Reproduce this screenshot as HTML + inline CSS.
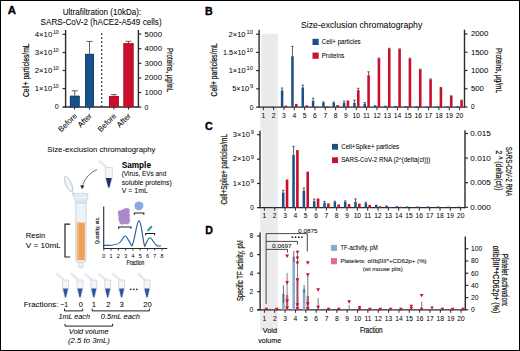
<!DOCTYPE html>
<html><head><meta charset="utf-8"><style>
html,body{margin:0;padding:0;background:#fff;}
svg{display:block;font-family:"Liberation Sans", sans-serif;}
</style></head><body>
<svg width="520" height="351" viewBox="0 0 520 351">
<rect x="0" y="0" width="520" height="351" fill="#fff"/>
<rect x="0.5" y="0.5" width="519" height="350" fill="none" stroke="#000" stroke-width="1"/>
<text x="7.8" y="14.1" font-size="11.4" stroke="#000" stroke-width="0.35" font-weight="bold" fill="#000">A</text>
<text x="205" y="15" font-size="10.6" stroke="#000" stroke-width="0.35" font-weight="bold" fill="#000">B</text>
<text x="205" y="130.4" font-size="10.8" stroke="#000" stroke-width="0.35" font-weight="bold" fill="#000">C</text>
<text x="205.3" y="233.9" font-size="10.6" stroke="#000" stroke-width="0.35" font-weight="bold" fill="#000">D</text>
<text x="62.7" y="15.2" font-size="8.2" stroke="#231f20" stroke-width="0.05" textLength="78.6" lengthAdjust="spacingAndGlyphs">Ultrafiltration (10kDa):</text>
<text x="40.6" y="24.8" font-size="8.2" stroke="#231f20" stroke-width="0.05" textLength="121" lengthAdjust="spacingAndGlyphs">SARS-CoV-2 (hACE2-A549 cells)</text>
<line x1="65.6" y1="30" x2="65.6" y2="107.5" stroke="#2b2b2b" stroke-width="1.4"/>
<line x1="138.4" y1="30" x2="138.4" y2="107.5" stroke="#2b2b2b" stroke-width="1.4"/>
<line x1="62.5" y1="107" x2="138.4" y2="107" stroke="#2b2b2b" stroke-width="1.4"/>
<line x1="62.6" y1="34.4" x2="65.6" y2="34.4" stroke="#2b2b2b" stroke-width="1.2"/>
<line x1="62.6" y1="52.5" x2="65.6" y2="52.5" stroke="#2b2b2b" stroke-width="1.2"/>
<line x1="62.6" y1="70.5" x2="65.6" y2="70.5" stroke="#2b2b2b" stroke-width="1.2"/>
<line x1="62.6" y1="88.6" x2="65.6" y2="88.6" stroke="#2b2b2b" stroke-width="1.2"/>
<text x="34.7" y="36.7" font-size="7" stroke="#231f20" stroke-width="0.03" textLength="17.6" lengthAdjust="spacingAndGlyphs">4×10</text>
<text x="52.9" y="33.8" font-size="5.4" textLength="5.9" lengthAdjust="spacingAndGlyphs">10</text>
<text x="34.7" y="54.8" font-size="7" stroke="#231f20" stroke-width="0.03" textLength="17.6" lengthAdjust="spacingAndGlyphs">3×10</text>
<text x="52.9" y="51.9" font-size="5.4" textLength="5.9" lengthAdjust="spacingAndGlyphs">10</text>
<text x="34.7" y="72.8" font-size="7" stroke="#231f20" stroke-width="0.03" textLength="17.6" lengthAdjust="spacingAndGlyphs">2×10</text>
<text x="52.9" y="69.9" font-size="5.4" textLength="5.9" lengthAdjust="spacingAndGlyphs">10</text>
<text x="34.7" y="90.9" font-size="7" stroke="#231f20" stroke-width="0.03" textLength="17.6" lengthAdjust="spacingAndGlyphs">1×10</text>
<text x="52.9" y="88" font-size="5.4" textLength="5.9" lengthAdjust="spacingAndGlyphs">10</text>
<text x="58.6" y="109.4" font-size="7" stroke="#231f20" stroke-width="0.03" text-anchor="end">0</text>
<line x1="138.4" y1="34.1" x2="141.4" y2="34.1" stroke="#2b2b2b" stroke-width="1.2"/>
<text x="144.6" y="36.5" font-size="7" stroke="#231f20" stroke-width="0.03" textLength="17.4" lengthAdjust="spacingAndGlyphs">5000</text>
<line x1="138.4" y1="48.7" x2="141.4" y2="48.7" stroke="#2b2b2b" stroke-width="1.2"/>
<text x="144.6" y="51.1" font-size="7" stroke="#231f20" stroke-width="0.03" textLength="17.4" lengthAdjust="spacingAndGlyphs">4000</text>
<line x1="138.4" y1="63.3" x2="141.4" y2="63.3" stroke="#2b2b2b" stroke-width="1.2"/>
<text x="144.6" y="65.7" font-size="7" stroke="#231f20" stroke-width="0.03" textLength="17.4" lengthAdjust="spacingAndGlyphs">3000</text>
<line x1="138.4" y1="77.9" x2="141.4" y2="77.9" stroke="#2b2b2b" stroke-width="1.2"/>
<text x="144.6" y="80.3" font-size="7" stroke="#231f20" stroke-width="0.03" textLength="17.4" lengthAdjust="spacingAndGlyphs">2000</text>
<line x1="138.4" y1="92.5" x2="141.4" y2="92.5" stroke="#2b2b2b" stroke-width="1.2"/>
<text x="144.6" y="94.9" font-size="7" stroke="#231f20" stroke-width="0.03" textLength="17.4" lengthAdjust="spacingAndGlyphs">1000</text>
<line x1="138.4" y1="107.1" x2="141.4" y2="107.1" stroke="#2b2b2b" stroke-width="1.2"/>
<text x="144.6" y="109.5" font-size="7" stroke="#231f20" stroke-width="0.03">0</text>
<text x="0" y="0" font-size="9.2" stroke="#231f20" stroke-width="0.22" text-anchor="middle" transform="translate(28.6 70.2) rotate(-90) scale(0.7305 1)">Cell+ particles/mL</text>
<text x="0" y="0" font-size="9.2" stroke="#231f20" stroke-width="0.22" text-anchor="middle" transform="translate(167.3 70.2) rotate(90) scale(0.6856 1)">Proteins, µg/mL</text>
<rect x="69.9" y="95.8" width="9.7" height="11.2" fill="#1a5089"/>
<line x1="74.75" y1="90.8" x2="74.75" y2="95.8" stroke="#3a3a3a" stroke-width="0.8"/>
<line x1="71.75" y1="90.8" x2="77.75" y2="90.8" stroke="#3a3a3a" stroke-width="0.8"/>
<rect x="85" y="53.9" width="9" height="53.1" fill="#1a5089"/>
<line x1="89.5" y1="41.4" x2="89.5" y2="53.9" stroke="#3a3a3a" stroke-width="0.8"/>
<line x1="86.5" y1="41.4" x2="92.5" y2="41.4" stroke="#3a3a3a" stroke-width="0.8"/>
<rect x="109" y="96" width="9.8" height="11" fill="#c8102e"/>
<line x1="113.9" y1="94.6" x2="113.9" y2="96" stroke="#3a3a3a" stroke-width="0.8"/>
<line x1="110.9" y1="94.6" x2="116.9" y2="94.6" stroke="#3a3a3a" stroke-width="0.8"/>
<rect x="123.5" y="43.2" width="10" height="63.8" fill="#c8102e"/>
<line x1="128.5" y1="41.3" x2="128.5" y2="43.2" stroke="#3a3a3a" stroke-width="0.8"/>
<line x1="125.5" y1="41.3" x2="131.5" y2="41.3" stroke="#3a3a3a" stroke-width="0.8"/>
<rect x="70.25" y="96.15" width="9" height="10.85" fill="none" stroke="#123f70" stroke-width="0.7"/>
<rect x="85.35" y="54.25" width="8.3" height="52.75" fill="none" stroke="#123f70" stroke-width="0.7"/>
<rect x="109.35" y="96.35" width="9.1" height="10.65" fill="none" stroke="#b00c28" stroke-width="0.7"/>
<rect x="123.85" y="43.55" width="9.3" height="63.45" fill="none" stroke="#b00c28" stroke-width="0.7"/>
<line x1="101.7" y1="33.2" x2="101.7" y2="107" stroke="#333" stroke-width="1.3" stroke-dasharray="1.8 2.2"/>
<line x1="74.6" y1="107" x2="74.6" y2="109.6" stroke="#2b2b2b" stroke-width="1.1"/>
<line x1="89.5" y1="107" x2="89.5" y2="109.6" stroke="#2b2b2b" stroke-width="1.1"/>
<line x1="113.9" y1="107" x2="113.9" y2="109.6" stroke="#2b2b2b" stroke-width="1.1"/>
<line x1="128.5" y1="107" x2="128.5" y2="109.6" stroke="#2b2b2b" stroke-width="1.1"/>
<text x="77.6" y="116.3" font-size="7.8" stroke="#231f20" stroke-width="0.05" text-anchor="end" transform="rotate(-45 77.6 116.3)">Before</text>
<text x="92.4" y="116.3" font-size="7.8" stroke="#231f20" stroke-width="0.05" text-anchor="end" transform="rotate(-45 92.4 116.3)">After</text>
<text x="116.9" y="116.3" font-size="7.8" stroke="#231f20" stroke-width="0.05" text-anchor="end" transform="rotate(-45 116.9 116.3)">Before</text>
<text x="131.4" y="116.3" font-size="7.8" stroke="#231f20" stroke-width="0.05" text-anchor="end" transform="rotate(-45 131.4 116.3)">After</text>
<text x="47.3" y="152.3" font-size="7.9" stroke="#231f20" stroke-width="0.03" textLength="108.2" lengthAdjust="spacingAndGlyphs">Size-exclusion chromatography</text>
<text x="121.7" y="167.6" font-size="8.7" stroke="#000" stroke-width="0.05" font-weight="bold" textLength="29.3" lengthAdjust="spacingAndGlyphs" fill="#000">Sample</text>
<text x="121.7" y="176.3" font-size="7" stroke="#231f20" stroke-width="0.05" textLength="44.6" lengthAdjust="spacingAndGlyphs">(Virus, EVs and</text>
<text x="121.7" y="185.2" font-size="7" stroke="#231f20" stroke-width="0.05" textLength="50" lengthAdjust="spacingAndGlyphs">soluble proteins)</text>
<text x="121.7" y="193.3" font-size="7" stroke="#231f20" stroke-width="0.05" textLength="26.2" lengthAdjust="spacingAndGlyphs">V = 1mL</text>
<text x="25.8" y="237.7" font-size="7.5" stroke="#231f20" stroke-width="0.05" textLength="19.4" lengthAdjust="spacingAndGlyphs">Resin</text>
<text x="25.8" y="247.8" font-size="7.8" stroke="#231f20" stroke-width="0.05" textLength="34.9" lengthAdjust="spacingAndGlyphs">V = 10mL</text>
<path d="M70.2 224.2 H65 V257 H70.2" fill="none" stroke="#222" stroke-width="1.2"/>
<path d="M105.2 167.3 H112.4 V176.8 L109.4 187.8 H108.2 L105.2 176.8 Z" fill="#f3f6f9" stroke="#bcc7d0" stroke-width="0.6"/>
<path d="M105.83 178 H111.77 L109.3 187.5 H108.3 Z" fill="#1f2c72"/>
<path d="M105.2 167.3 L98.7 161.7 L99.9 160.5 L106.4 166.3 Z" fill="#f3f6f9" stroke="#bcc7d0" stroke-width="0.5"/>
<path d="M97 169.5 Q86 174 82.2 186.5" fill="none" stroke="#333" stroke-width="0.7"/>
<path d="M80.2 185.2 L82.1 189.2 L84.3 185.8 Z" fill="#222"/>
<ellipse cx="68.6" cy="184.2" rx="2.8" ry="8.4" transform="rotate(-24 68.6 184.2)" fill="#f1f5f8" stroke="#b4c1cb" stroke-width="0.8"/>
<path d="M71.6 191.2 L74.6 194.4" stroke="#b4c1cb" stroke-width="1"/>
<path d="M72.5 193.8 L73.5 194" stroke="#b9c6d0" stroke-width="0.7"/>
<path d="M72.8 194 H87.7 V198.5 L86 203 H76.2 L74.5 198.5 Z" fill="#eef3f7" stroke="#b9c6d0" stroke-width="0.7"/>
<path d="M74.6 198.6 H87.6 L86 203 H76.2 Z" fill="#dfe7ee"/>
<ellipse cx="80.25" cy="194.3" rx="7.4" ry="1.1" fill="#f6f9fb" stroke="#b9c6d0" stroke-width="0.6"/>
<path d="M75.8 203 H86.1 V261 L83.2 262.5 H78.7 L75.8 261 Z" fill="#eef3f7" stroke="#b9c6d0" stroke-width="0.7"/>
<rect x="76.9" y="222.6" width="7.9" height="37.6" fill="#f2a057"/>
<rect x="76.9" y="222.6" width="2" height="37.6" fill="#f5b57a"/>
<path d="M78.7 262.5 H82.8 V267.5 Q80.75 268.5 78.7 267.5 Z" fill="#eef3f7" stroke="#b9c6d0" stroke-width="0.6"/>
<line x1="103.7" y1="206.6" x2="103.7" y2="248.6" stroke="#2b2b2b" stroke-width="1.1"/>
<line x1="103.2" y1="248.5" x2="167.3" y2="248.5" stroke="#2b2b2b" stroke-width="1.1"/>
<line x1="103.8" y1="248.5" x2="103.8" y2="250.6" stroke="#2b2b2b" stroke-width="0.9"/>
<text x="103.8" y="257.7" font-size="5.4" stroke="#231f20" stroke-width="0.03" text-anchor="middle">0</text>
<line x1="111.08" y1="248.5" x2="111.08" y2="250.6" stroke="#2b2b2b" stroke-width="0.9"/>
<text x="111.08" y="257.7" font-size="5.4" stroke="#231f20" stroke-width="0.03" text-anchor="middle">1</text>
<line x1="118.36" y1="248.5" x2="118.36" y2="250.6" stroke="#2b2b2b" stroke-width="0.9"/>
<text x="118.36" y="257.7" font-size="5.4" stroke="#231f20" stroke-width="0.03" text-anchor="middle">2</text>
<line x1="125.64" y1="248.5" x2="125.64" y2="250.6" stroke="#2b2b2b" stroke-width="0.9"/>
<text x="125.64" y="257.7" font-size="5.4" stroke="#231f20" stroke-width="0.03" text-anchor="middle">3</text>
<line x1="132.92" y1="248.5" x2="132.92" y2="250.6" stroke="#2b2b2b" stroke-width="0.9"/>
<text x="132.92" y="257.7" font-size="5.4" stroke="#231f20" stroke-width="0.03" text-anchor="middle">4</text>
<line x1="140.2" y1="248.5" x2="140.2" y2="250.6" stroke="#2b2b2b" stroke-width="0.9"/>
<text x="140.2" y="257.7" font-size="5.4" stroke="#231f20" stroke-width="0.03" text-anchor="middle">5</text>
<line x1="147.48" y1="248.5" x2="147.48" y2="250.6" stroke="#2b2b2b" stroke-width="0.9"/>
<text x="147.48" y="257.7" font-size="5.4" stroke="#231f20" stroke-width="0.03" text-anchor="middle">6</text>
<line x1="154.76" y1="248.5" x2="154.76" y2="250.6" stroke="#2b2b2b" stroke-width="0.9"/>
<text x="154.76" y="257.7" font-size="5.4" stroke="#231f20" stroke-width="0.03" text-anchor="middle">7</text>
<line x1="162.04" y1="248.5" x2="162.04" y2="250.6" stroke="#2b2b2b" stroke-width="0.9"/>
<text x="162.04" y="257.7" font-size="5.4" stroke="#231f20" stroke-width="0.03" text-anchor="middle">8</text>
<text x="135.4" y="265.2" font-size="6.9" stroke="#231f20" stroke-width="0.15" text-anchor="middle" textLength="17.7" lengthAdjust="spacingAndGlyphs">Fraction</text>
<text x="0" y="0" font-size="5.6" stroke="#231f20" stroke-width="0.12" text-anchor="middle" transform="translate(98.7 230.5) rotate(-90) scale(0.8547 1)">Quantity, etc.</text>
<path d="M104 245.4 C112 245.6 118 245 120.5 242 C123 238 124 236 125.2 236 C127 236 129 242 131.9 245.8 C134.5 243 136.5 221 139 220.6 C141.5 221 143 243 144.7 246.3 C146.5 243 148 237.7 149.8 237.7 C152 237.7 154 244 157 245.6 C158.5 246.2 160 246 161 245.8" fill="none" stroke="#22609c" stroke-width="1.15"/>
<path d="M118.7 228.8 V227 H131 V228.8" fill="none" stroke="#222" stroke-width="1.1"/>
<path d="M134.4 214.8 V213 H143.8 V214.8" fill="none" stroke="#222" stroke-width="1.1"/>
<path d="M145.6 235.3 V233.5 H154.6 V235.3" fill="none" stroke="#222" stroke-width="1.1"/>
<path d="M118 211.6 L119.6 210.6 L121.6 210.2 L123.2 209.2 L124.8 208.6 L126.6 208.1 L128.2 208.6 L129.5 209.3 L129.6 211.2 L129.2 213 L129.9 215.2 L129.4 217.6 L129.9 220.2 L129.2 223.2 L127 224.3 L124.6 223.8 L122.2 224.6 L120.2 223.9 L119.4 221.8 L118.4 219.6 L118.8 217.2 L118.1 214.6 Z" fill="#aa89c9" stroke="#b89cd4" stroke-width="0.5" stroke-dasharray="0.8 0.6"/>
<path d="M134.6 205.3 L135.4 202.9 L137.4 201.8 L139.8 201.7 L142 202.6 L143.3 204.6 L143.1 207.2 L141.6 209.4 L139.2 210.2 L136.8 209.8 L135.1 208.2 Z" fill="#8ca6e4" stroke="#9db3ea" stroke-width="0.5" stroke-dasharray="0.8 0.6"/>
<path d="M148.2 230.2 L151.2 227" stroke="#3ea39c" stroke-width="2.4" stroke-linecap="round"/>
<path d="M62.55 280 H68.45 V288.6 L66.1 297.6 H64.9 L62.55 288.6 Z" fill="#f3f6f9" stroke="#bcc7d0" stroke-width="0.6"/>
<path d="M62.95 288.6 H68.05 V288.6 L66 297.3 H65 L62.95 288.6 Z" fill="#2b54a3"/>
<path d="M62.55 280 L56.05 274.4 L57.25 273.2 L63.75 279 Z" fill="#f3f6f9" stroke="#bcc7d0" stroke-width="0.5"/>
<path d="M77.05 280 H82.95 V288.6 L80.6 297.6 H79.4 L77.05 288.6 Z" fill="#f3f6f9" stroke="#bcc7d0" stroke-width="0.6"/>
<path d="M77.45 288.6 H82.55 V288.6 L80.5 297.3 H79.5 L77.45 288.6 Z" fill="#2b54a3"/>
<path d="M77.05 280 L70.55 274.4 L71.75 273.2 L78.25 279 Z" fill="#f3f6f9" stroke="#bcc7d0" stroke-width="0.5"/>
<path d="M90.85 280 H96.75 V288.6 L94.4 297.6 H93.2 L90.85 288.6 Z" fill="#f3f6f9" stroke="#bcc7d0" stroke-width="0.6"/>
<path d="M91.25 288.6 H96.35 V288.6 L94.3 297.3 H93.3 L91.25 288.6 Z" fill="#2b54a3"/>
<path d="M90.85 280 L84.35 274.4 L85.55 273.2 L92.05 279 Z" fill="#f3f6f9" stroke="#bcc7d0" stroke-width="0.5"/>
<path d="M104.75 280 H110.65 V288.6 L108.3 297.6 H107.1 L104.75 288.6 Z" fill="#f3f6f9" stroke="#bcc7d0" stroke-width="0.6"/>
<path d="M105.15 288.6 H110.25 V288.6 L108.2 297.3 H107.2 L105.15 288.6 Z" fill="#2b54a3"/>
<path d="M104.75 280 L98.25 274.4 L99.45 273.2 L105.95 279 Z" fill="#f3f6f9" stroke="#bcc7d0" stroke-width="0.5"/>
<path d="M118.65 280 H124.55 V288.6 L122.2 297.6 H121 L118.65 288.6 Z" fill="#f3f6f9" stroke="#bcc7d0" stroke-width="0.6"/>
<path d="M119.05 288.6 H124.15 V288.6 L122.1 297.3 H121.1 L119.05 288.6 Z" fill="#2b54a3"/>
<path d="M118.65 280 L112.15 274.4 L113.35 273.2 L119.85 279 Z" fill="#f3f6f9" stroke="#bcc7d0" stroke-width="0.5"/>
<path d="M144.05 280 H149.95 V288.6 L147.6 297.6 H146.4 L144.05 288.6 Z" fill="#f3f6f9" stroke="#bcc7d0" stroke-width="0.6"/>
<path d="M144.45 288.6 H149.55 V288.6 L147.5 297.3 H146.5 L144.45 288.6 Z" fill="#2b54a3"/>
<path d="M144.05 280 L137.55 274.4 L138.75 273.2 L145.25 279 Z" fill="#f3f6f9" stroke="#bcc7d0" stroke-width="0.5"/>
<circle cx="130.8" cy="289.3" r="0.85" fill="#222"/>
<circle cx="133.9" cy="289.3" r="0.85" fill="#222"/>
<circle cx="136.9" cy="289.3" r="0.85" fill="#222"/>
<text x="23.8" y="307.1" font-size="7.6" stroke="#231f20" stroke-width="0.05" textLength="34.6" lengthAdjust="spacingAndGlyphs">Fractions:</text>
<text x="60.2" y="307.1" font-size="7.6" stroke="#231f20" stroke-width="0.05" textLength="7.8" lengthAdjust="spacingAndGlyphs">−1</text>
<text x="80.9" y="307.1" font-size="7.6" stroke="#231f20" stroke-width="0.05" text-anchor="middle">0</text>
<text x="93.9" y="307.1" font-size="7.6" stroke="#231f20" stroke-width="0.05" text-anchor="middle">1</text>
<text x="108.4" y="307.1" font-size="7.6" stroke="#231f20" stroke-width="0.05" text-anchor="middle">2</text>
<text x="121.7" y="307.1" font-size="7.6" stroke="#231f20" stroke-width="0.05" text-anchor="middle">3</text>
<text x="147.4" y="307.1" font-size="7.6" stroke="#231f20" stroke-width="0.05" text-anchor="middle">20</text>
<path d="M64.5 308.6 V310.9 H82.7 V308.6" fill="none" stroke="#222" stroke-width="1.0"/>
<path d="M92.2 308.6 V310.9 H149.4 V308.6" fill="none" stroke="#222" stroke-width="1.0"/>
<path d="M65 323.8 V326.1 H112.6 V323.8" fill="none" stroke="#222" stroke-width="1.0"/>
<text x="58.4" y="319.2" font-size="7.2" stroke="#231f20" stroke-width="0.05" font-style="italic" textLength="31.6" lengthAdjust="spacingAndGlyphs">1mL each</text>
<text x="100.8" y="319.2" font-size="7.2" stroke="#231f20" stroke-width="0.05" font-style="italic" textLength="39.1" lengthAdjust="spacingAndGlyphs">0.5mL each</text>
<text x="68.8" y="334" font-size="7.2" stroke="#231f20" stroke-width="0.05" font-style="italic" textLength="39.8" lengthAdjust="spacingAndGlyphs">Void volume</text>
<text x="68" y="343" font-size="7.5" stroke="#231f20" stroke-width="0.05" font-style="italic" textLength="41.9" lengthAdjust="spacingAndGlyphs">(2.5 to 3mL)</text>
<rect x="260.2" y="33.8" width="17.6" height="297.4" fill="#ebebee"/>
<rect x="259.7" y="33.8" width="1.5" height="73.4" fill="#fff"/>
<line x1="259.1" y1="29.7" x2="259.1" y2="107.7" stroke="#2b2b2b" stroke-width="1.4"/>
<line x1="464.5" y1="29.7" x2="464.5" y2="107.7" stroke="#2b2b2b" stroke-width="1.4"/>
<line x1="256.1" y1="107.2" x2="464.5" y2="107.2" stroke="#2b2b2b" stroke-width="1.3"/>
<line x1="263.3" y1="107.2" x2="263.3" y2="110.2" stroke="#2b2b2b" stroke-width="1"/>
<line x1="273.63" y1="107.2" x2="273.63" y2="110.2" stroke="#2b2b2b" stroke-width="1"/>
<line x1="283.96" y1="107.2" x2="283.96" y2="110.2" stroke="#2b2b2b" stroke-width="1"/>
<line x1="294.29" y1="107.2" x2="294.29" y2="110.2" stroke="#2b2b2b" stroke-width="1"/>
<line x1="304.62" y1="107.2" x2="304.62" y2="110.2" stroke="#2b2b2b" stroke-width="1"/>
<line x1="314.95" y1="107.2" x2="314.95" y2="110.2" stroke="#2b2b2b" stroke-width="1"/>
<line x1="325.28" y1="107.2" x2="325.28" y2="110.2" stroke="#2b2b2b" stroke-width="1"/>
<line x1="335.61" y1="107.2" x2="335.61" y2="110.2" stroke="#2b2b2b" stroke-width="1"/>
<line x1="345.94" y1="107.2" x2="345.94" y2="110.2" stroke="#2b2b2b" stroke-width="1"/>
<line x1="356.27" y1="107.2" x2="356.27" y2="110.2" stroke="#2b2b2b" stroke-width="1"/>
<line x1="366.6" y1="107.2" x2="366.6" y2="110.2" stroke="#2b2b2b" stroke-width="1"/>
<line x1="376.93" y1="107.2" x2="376.93" y2="110.2" stroke="#2b2b2b" stroke-width="1"/>
<line x1="387.26" y1="107.2" x2="387.26" y2="110.2" stroke="#2b2b2b" stroke-width="1"/>
<line x1="397.59" y1="107.2" x2="397.59" y2="110.2" stroke="#2b2b2b" stroke-width="1"/>
<line x1="407.92" y1="107.2" x2="407.92" y2="110.2" stroke="#2b2b2b" stroke-width="1"/>
<line x1="418.25" y1="107.2" x2="418.25" y2="110.2" stroke="#2b2b2b" stroke-width="1"/>
<line x1="428.58" y1="107.2" x2="428.58" y2="110.2" stroke="#2b2b2b" stroke-width="1"/>
<line x1="438.91" y1="107.2" x2="438.91" y2="110.2" stroke="#2b2b2b" stroke-width="1"/>
<line x1="449.24" y1="107.2" x2="449.24" y2="110.2" stroke="#2b2b2b" stroke-width="1"/>
<line x1="459.57" y1="107.2" x2="459.57" y2="110.2" stroke="#2b2b2b" stroke-width="1"/>
<text x="301" y="27.7" font-size="8.8" stroke="#231f20" stroke-width="0.03" textLength="121.3" lengthAdjust="spacingAndGlyphs">Size-exclusion chromatography</text>
<line x1="256.1" y1="34.2" x2="259.1" y2="34.2" stroke="#2b2b2b" stroke-width="1.2"/>
<line x1="256.1" y1="52.4" x2="259.1" y2="52.4" stroke="#2b2b2b" stroke-width="1.2"/>
<line x1="256.1" y1="70.6" x2="259.1" y2="70.6" stroke="#2b2b2b" stroke-width="1.2"/>
<line x1="256.1" y1="88.9" x2="259.1" y2="88.9" stroke="#2b2b2b" stroke-width="1.2"/>
<text x="228.5" y="36.5" font-size="6.7" stroke="#231f20" stroke-width="0.03" textLength="17.1" lengthAdjust="spacingAndGlyphs">2×10</text>
<text x="246.5" y="33.7" font-size="5.2" textLength="6.4" lengthAdjust="spacingAndGlyphs">10</text>
<text x="223" y="54.7" font-size="6.7" stroke="#231f20" stroke-width="0.03" textLength="22.6" lengthAdjust="spacingAndGlyphs">1.5×10</text>
<text x="246.5" y="51.9" font-size="5.2" textLength="6.4" lengthAdjust="spacingAndGlyphs">10</text>
<text x="228.7" y="72.9" font-size="6.7" stroke="#231f20" stroke-width="0.03" textLength="16.9" lengthAdjust="spacingAndGlyphs">1×10</text>
<text x="246.5" y="70.1" font-size="5.2" textLength="6.4" lengthAdjust="spacingAndGlyphs">10</text>
<text x="232.2" y="91.2" font-size="6.7" stroke="#231f20" stroke-width="0.03" textLength="16.9" lengthAdjust="spacingAndGlyphs">5×10</text>
<text x="250" y="88.4" font-size="5.2" textLength="3.2" lengthAdjust="spacingAndGlyphs">9</text>
<text x="253.5" y="109.6" font-size="6.7" stroke="#231f20" stroke-width="0.03" text-anchor="end">0</text>
<line x1="464.5" y1="34" x2="467.5" y2="34" stroke="#2b2b2b" stroke-width="1.2"/>
<text x="470.9" y="36.4" font-size="6.7" stroke="#231f20" stroke-width="0.03" textLength="17.4" lengthAdjust="spacingAndGlyphs">2000</text>
<line x1="464.5" y1="52.25" x2="467.5" y2="52.25" stroke="#2b2b2b" stroke-width="1.2"/>
<text x="470.9" y="54.65" font-size="6.7" stroke="#231f20" stroke-width="0.03" textLength="17.4" lengthAdjust="spacingAndGlyphs">1500</text>
<line x1="464.5" y1="70.5" x2="467.5" y2="70.5" stroke="#2b2b2b" stroke-width="1.2"/>
<text x="470.9" y="72.9" font-size="6.7" stroke="#231f20" stroke-width="0.03" textLength="17.4" lengthAdjust="spacingAndGlyphs">1000</text>
<line x1="464.5" y1="88.75" x2="467.5" y2="88.75" stroke="#2b2b2b" stroke-width="1.2"/>
<text x="470.9" y="91.15" font-size="6.7" stroke="#231f20" stroke-width="0.03" textLength="13" lengthAdjust="spacingAndGlyphs">500</text>
<line x1="464.5" y1="107" x2="467.5" y2="107" stroke="#2b2b2b" stroke-width="1.2"/>
<text x="470.9" y="109.4" font-size="6.7" stroke="#231f20" stroke-width="0.03">0</text>
<text x="0" y="0" font-size="9" stroke="#231f20" stroke-width="0.22" text-anchor="middle" transform="translate(217 69.8) rotate(-90) scale(0.7426 1)">Cell+ particles/mL</text>
<text x="0" y="0" font-size="9" stroke="#231f20" stroke-width="0.22" text-anchor="middle" transform="translate(495.6 70.5) rotate(90) scale(0.7119 1)">Proteins, µg/mL</text>
<text x="263.3" y="118.1" font-size="6.7" stroke="#231f20" stroke-width="0.03" text-anchor="middle">1</text>
<text x="273.63" y="118.1" font-size="6.7" stroke="#231f20" stroke-width="0.03" text-anchor="middle">2</text>
<text x="283.96" y="118.1" font-size="6.7" stroke="#231f20" stroke-width="0.03" text-anchor="middle">3</text>
<text x="294.29" y="118.1" font-size="6.7" stroke="#231f20" stroke-width="0.03" text-anchor="middle">4</text>
<text x="304.62" y="118.1" font-size="6.7" stroke="#231f20" stroke-width="0.03" text-anchor="middle">5</text>
<text x="314.95" y="118.1" font-size="6.7" stroke="#231f20" stroke-width="0.03" text-anchor="middle">6</text>
<text x="325.28" y="118.1" font-size="6.7" stroke="#231f20" stroke-width="0.03" text-anchor="middle">7</text>
<text x="335.61" y="118.1" font-size="6.7" stroke="#231f20" stroke-width="0.03" text-anchor="middle">8</text>
<text x="345.94" y="118.1" font-size="6.7" stroke="#231f20" stroke-width="0.03" text-anchor="middle">9</text>
<text x="356.27" y="118.1" font-size="6.7" stroke="#231f20" stroke-width="0.03" text-anchor="middle">10</text>
<text x="366.6" y="118.1" font-size="6.7" stroke="#231f20" stroke-width="0.03" text-anchor="middle">11</text>
<text x="376.93" y="118.1" font-size="6.7" stroke="#231f20" stroke-width="0.03" text-anchor="middle">12</text>
<text x="387.26" y="118.1" font-size="6.7" stroke="#231f20" stroke-width="0.03" text-anchor="middle">13</text>
<text x="397.59" y="118.1" font-size="6.7" stroke="#231f20" stroke-width="0.03" text-anchor="middle">14</text>
<text x="407.92" y="118.1" font-size="6.7" stroke="#231f20" stroke-width="0.03" text-anchor="middle">15</text>
<text x="418.25" y="118.1" font-size="6.7" stroke="#231f20" stroke-width="0.03" text-anchor="middle">16</text>
<text x="428.58" y="118.1" font-size="6.7" stroke="#231f20" stroke-width="0.03" text-anchor="middle">17</text>
<text x="438.91" y="118.1" font-size="6.7" stroke="#231f20" stroke-width="0.03" text-anchor="middle">18</text>
<text x="449.24" y="118.1" font-size="6.7" stroke="#231f20" stroke-width="0.03" text-anchor="middle">19</text>
<text x="459.57" y="118.1" font-size="6.7" stroke="#231f20" stroke-width="0.03" text-anchor="middle">20</text>
<rect x="312.5" y="38.8" width="6.2" height="6.2" fill="#1a5089"/>
<text x="321.7" y="44.3" font-size="6.3" stroke="#231f20" stroke-width="0.05" textLength="39" lengthAdjust="spacingAndGlyphs">Cell+ particles</text>
<rect x="312.5" y="52.6" width="6.2" height="6.2" fill="#c8102e"/>
<text x="321.7" y="57.8" font-size="6.3" stroke="#231f20" stroke-width="0.05" textLength="22.8" lengthAdjust="spacingAndGlyphs">Proteins</text>
<rect x="270.53" y="106.8" width="2.5" height="0.4" fill="#1a5089"/>
<rect x="280.86" y="90.4" width="2.5" height="16.8" fill="#1a5089"/>
<line x1="282.11" y1="88" x2="282.11" y2="90.4" stroke="#3a3a3a" stroke-width="0.8"/>
<line x1="280.91" y1="88" x2="283.31" y2="88" stroke="#3a3a3a" stroke-width="0.8"/>
<rect x="284.66" y="105.6" width="2.6" height="1.6" fill="#c8102e"/>
<rect x="291.19" y="56.2" width="2.5" height="51" fill="#1a5089"/>
<line x1="292.44" y1="46.4" x2="292.44" y2="56.2" stroke="#3a3a3a" stroke-width="0.8"/>
<line x1="291.24" y1="46.4" x2="293.64" y2="46.4" stroke="#3a3a3a" stroke-width="0.8"/>
<rect x="294.99" y="103.9" width="2.6" height="3.3" fill="#c8102e"/>
<rect x="301.52" y="87.4" width="2.5" height="19.8" fill="#1a5089"/>
<line x1="302.77" y1="85.1" x2="302.77" y2="87.4" stroke="#3a3a3a" stroke-width="0.8"/>
<line x1="301.57" y1="85.1" x2="303.97" y2="85.1" stroke="#3a3a3a" stroke-width="0.8"/>
<rect x="305.32" y="105.3" width="2.6" height="1.9" fill="#c8102e"/>
<rect x="311.85" y="100.8" width="2.5" height="6.4" fill="#1a5089"/>
<line x1="313.1" y1="98.2" x2="313.1" y2="100.8" stroke="#3a3a3a" stroke-width="0.8"/>
<line x1="311.9" y1="98.2" x2="314.3" y2="98.2" stroke="#3a3a3a" stroke-width="0.8"/>
<rect x="315.65" y="106.6" width="2.6" height="0.6" fill="#c8102e"/>
<rect x="322.18" y="102.5" width="2.5" height="4.7" fill="#1a5089"/>
<line x1="323.43" y1="101.9" x2="323.43" y2="102.5" stroke="#3a3a3a" stroke-width="0.8"/>
<line x1="322.23" y1="101.9" x2="324.63" y2="101.9" stroke="#3a3a3a" stroke-width="0.8"/>
<rect x="325.98" y="106.3" width="2.6" height="0.9" fill="#c8102e"/>
<rect x="332.51" y="102.6" width="2.5" height="4.6" fill="#1a5089"/>
<line x1="333.76" y1="102" x2="333.76" y2="102.6" stroke="#3a3a3a" stroke-width="0.8"/>
<line x1="332.56" y1="102" x2="334.96" y2="102" stroke="#3a3a3a" stroke-width="0.8"/>
<rect x="336.31" y="105.1" width="2.6" height="2.1" fill="#c8102e"/>
<rect x="342.84" y="102.7" width="2.5" height="4.5" fill="#1a5089"/>
<line x1="344.09" y1="101.1" x2="344.09" y2="102.7" stroke="#3a3a3a" stroke-width="0.8"/>
<line x1="342.89" y1="101.1" x2="345.29" y2="101.1" stroke="#3a3a3a" stroke-width="0.8"/>
<rect x="346.64" y="100.5" width="2.6" height="6.7" fill="#c8102e"/>
<rect x="353.17" y="102.8" width="2.5" height="4.4" fill="#1a5089"/>
<line x1="354.42" y1="100.2" x2="354.42" y2="102.8" stroke="#3a3a3a" stroke-width="0.8"/>
<line x1="353.22" y1="100.2" x2="355.62" y2="100.2" stroke="#3a3a3a" stroke-width="0.8"/>
<rect x="356.97" y="90.2" width="2.6" height="17" fill="#c8102e"/>
<line x1="358.27" y1="88.3" x2="358.27" y2="90.2" stroke="#3a3a3a" stroke-width="0.8"/>
<line x1="357.07" y1="88.3" x2="359.47" y2="88.3" stroke="#3a3a3a" stroke-width="0.8"/>
<rect x="363.5" y="103.7" width="2.5" height="3.5" fill="#1a5089"/>
<line x1="364.75" y1="102.6" x2="364.75" y2="103.7" stroke="#3a3a3a" stroke-width="0.8"/>
<line x1="363.55" y1="102.6" x2="365.95" y2="102.6" stroke="#3a3a3a" stroke-width="0.8"/>
<rect x="367.3" y="75.3" width="2.6" height="31.9" fill="#c8102e"/>
<line x1="368.6" y1="71.8" x2="368.6" y2="75.3" stroke="#3a3a3a" stroke-width="0.8"/>
<line x1="367.4" y1="71.8" x2="369.8" y2="71.8" stroke="#3a3a3a" stroke-width="0.8"/>
<rect x="373.83" y="105.3" width="2.5" height="1.9" fill="#1a5089"/>
<rect x="377.63" y="58.5" width="2.6" height="48.7" fill="#c8102e"/>
<line x1="378.93" y1="58" x2="378.93" y2="58.5" stroke="#3a3a3a" stroke-width="0.8"/>
<line x1="377.73" y1="58" x2="380.13" y2="58" stroke="#3a3a3a" stroke-width="0.8"/>
<rect x="384.16" y="105.7" width="2.5" height="1.5" fill="#1a5089"/>
<rect x="387.96" y="48.8" width="2.6" height="58.4" fill="#c8102e"/>
<line x1="389.26" y1="48.3" x2="389.26" y2="48.8" stroke="#3a3a3a" stroke-width="0.8"/>
<line x1="388.06" y1="48.3" x2="390.46" y2="48.3" stroke="#3a3a3a" stroke-width="0.8"/>
<rect x="394.49" y="105.9" width="2.5" height="1.3" fill="#1a5089"/>
<rect x="398.29" y="49.2" width="2.6" height="58" fill="#c8102e"/>
<line x1="399.59" y1="48.9" x2="399.59" y2="49.2" stroke="#3a3a3a" stroke-width="0.8"/>
<line x1="398.39" y1="48.9" x2="400.79" y2="48.9" stroke="#3a3a3a" stroke-width="0.8"/>
<rect x="404.82" y="106.1" width="2.5" height="1.1" fill="#1a5089"/>
<rect x="408.62" y="58.6" width="2.6" height="48.6" fill="#c8102e"/>
<line x1="409.92" y1="58.2" x2="409.92" y2="58.6" stroke="#3a3a3a" stroke-width="0.8"/>
<line x1="408.72" y1="58.2" x2="411.12" y2="58.2" stroke="#3a3a3a" stroke-width="0.8"/>
<rect x="415.15" y="106.2" width="2.5" height="1" fill="#1a5089"/>
<rect x="418.95" y="69.6" width="2.6" height="37.6" fill="#c8102e"/>
<line x1="420.25" y1="69.2" x2="420.25" y2="69.6" stroke="#3a3a3a" stroke-width="0.8"/>
<line x1="419.05" y1="69.2" x2="421.45" y2="69.2" stroke="#3a3a3a" stroke-width="0.8"/>
<rect x="425.48" y="106.2" width="2.5" height="1" fill="#1a5089"/>
<rect x="429.28" y="79.4" width="2.6" height="27.8" fill="#c8102e"/>
<line x1="430.58" y1="79" x2="430.58" y2="79.4" stroke="#3a3a3a" stroke-width="0.8"/>
<line x1="429.38" y1="79" x2="431.78" y2="79" stroke="#3a3a3a" stroke-width="0.8"/>
<rect x="435.81" y="106.3" width="2.5" height="0.9" fill="#1a5089"/>
<rect x="439.61" y="87.8" width="2.6" height="19.4" fill="#c8102e"/>
<line x1="440.91" y1="87.5" x2="440.91" y2="87.8" stroke="#3a3a3a" stroke-width="0.8"/>
<line x1="439.71" y1="87.5" x2="442.11" y2="87.5" stroke="#3a3a3a" stroke-width="0.8"/>
<rect x="446.14" y="106.3" width="2.5" height="0.9" fill="#1a5089"/>
<rect x="449.94" y="96.1" width="2.6" height="11.1" fill="#c8102e"/>
<line x1="451.24" y1="95.8" x2="451.24" y2="96.1" stroke="#3a3a3a" stroke-width="0.8"/>
<line x1="450.04" y1="95.8" x2="452.44" y2="95.8" stroke="#3a3a3a" stroke-width="0.8"/>
<rect x="456.47" y="106.3" width="2.5" height="0.9" fill="#1a5089"/>
<rect x="460.27" y="100.4" width="2.6" height="6.8" fill="#c8102e"/>
<line x1="461.57" y1="100.1" x2="461.57" y2="100.4" stroke="#3a3a3a" stroke-width="0.8"/>
<line x1="460.37" y1="100.1" x2="462.77" y2="100.1" stroke="#3a3a3a" stroke-width="0.8"/>
<rect x="260.6" y="130.7" width="1.5" height="77" fill="#fff"/>
<line x1="260" y1="130.7" x2="260" y2="208.2" stroke="#2b2b2b" stroke-width="1.4"/>
<line x1="465" y1="130.3" x2="465" y2="208.2" stroke="#2b2b2b" stroke-width="1.4"/>
<line x1="257" y1="207.7" x2="465" y2="207.7" stroke="#2b2b2b" stroke-width="1.3"/>
<line x1="264.4" y1="207.7" x2="264.4" y2="210.7" stroke="#2b2b2b" stroke-width="1"/>
<line x1="274.73" y1="207.7" x2="274.73" y2="210.7" stroke="#2b2b2b" stroke-width="1"/>
<line x1="285.06" y1="207.7" x2="285.06" y2="210.7" stroke="#2b2b2b" stroke-width="1"/>
<line x1="295.39" y1="207.7" x2="295.39" y2="210.7" stroke="#2b2b2b" stroke-width="1"/>
<line x1="305.72" y1="207.7" x2="305.72" y2="210.7" stroke="#2b2b2b" stroke-width="1"/>
<line x1="316.05" y1="207.7" x2="316.05" y2="210.7" stroke="#2b2b2b" stroke-width="1"/>
<line x1="326.38" y1="207.7" x2="326.38" y2="210.7" stroke="#2b2b2b" stroke-width="1"/>
<line x1="336.71" y1="207.7" x2="336.71" y2="210.7" stroke="#2b2b2b" stroke-width="1"/>
<line x1="347.04" y1="207.7" x2="347.04" y2="210.7" stroke="#2b2b2b" stroke-width="1"/>
<line x1="357.37" y1="207.7" x2="357.37" y2="210.7" stroke="#2b2b2b" stroke-width="1"/>
<line x1="367.7" y1="207.7" x2="367.7" y2="210.7" stroke="#2b2b2b" stroke-width="1"/>
<line x1="378.03" y1="207.7" x2="378.03" y2="210.7" stroke="#2b2b2b" stroke-width="1"/>
<line x1="388.36" y1="207.7" x2="388.36" y2="210.7" stroke="#2b2b2b" stroke-width="1"/>
<line x1="398.69" y1="207.7" x2="398.69" y2="210.7" stroke="#2b2b2b" stroke-width="1"/>
<line x1="409.02" y1="207.7" x2="409.02" y2="210.7" stroke="#2b2b2b" stroke-width="1"/>
<line x1="419.35" y1="207.7" x2="419.35" y2="210.7" stroke="#2b2b2b" stroke-width="1"/>
<line x1="429.68" y1="207.7" x2="429.68" y2="210.7" stroke="#2b2b2b" stroke-width="1"/>
<line x1="440.01" y1="207.7" x2="440.01" y2="210.7" stroke="#2b2b2b" stroke-width="1"/>
<line x1="450.34" y1="207.7" x2="450.34" y2="210.7" stroke="#2b2b2b" stroke-width="1"/>
<line x1="460.67" y1="207.7" x2="460.67" y2="210.7" stroke="#2b2b2b" stroke-width="1"/>
<line x1="257" y1="134.7" x2="260" y2="134.7" stroke="#2b2b2b" stroke-width="1.2"/>
<line x1="257" y1="159.2" x2="260" y2="159.2" stroke="#2b2b2b" stroke-width="1.2"/>
<line x1="257" y1="183.5" x2="260" y2="183.5" stroke="#2b2b2b" stroke-width="1.2"/>
<text x="232.8" y="136.9" font-size="6.6" stroke="#231f20" stroke-width="0.03" textLength="17.1" lengthAdjust="spacingAndGlyphs">3×10</text>
<text x="250.8" y="134.1" font-size="5.2" textLength="3.2" lengthAdjust="spacingAndGlyphs">9</text>
<text x="232.8" y="161.4" font-size="6.6" stroke="#231f20" stroke-width="0.03" textLength="17.1" lengthAdjust="spacingAndGlyphs">2×10</text>
<text x="250.8" y="158.6" font-size="5.2" textLength="3.2" lengthAdjust="spacingAndGlyphs">9</text>
<text x="232.8" y="185.7" font-size="6.6" stroke="#231f20" stroke-width="0.03" textLength="17.1" lengthAdjust="spacingAndGlyphs">1×10</text>
<text x="250.8" y="182.9" font-size="5.2" textLength="3.2" lengthAdjust="spacingAndGlyphs">9</text>
<text x="254" y="210.1" font-size="6.6" stroke="#231f20" stroke-width="0.03" text-anchor="end">0</text>
<line x1="465" y1="133.5" x2="468" y2="133.5" stroke="#2b2b2b" stroke-width="1.2"/>
<text x="470.3" y="135.9" font-size="6.6" stroke="#231f20" stroke-width="0.03" textLength="20.6" lengthAdjust="spacingAndGlyphs">0.015</text>
<line x1="465" y1="158.1" x2="468" y2="158.1" stroke="#2b2b2b" stroke-width="1.2"/>
<text x="470.3" y="160.5" font-size="6.6" stroke="#231f20" stroke-width="0.03" textLength="20.6" lengthAdjust="spacingAndGlyphs">0.010</text>
<line x1="465" y1="182.7" x2="468" y2="182.7" stroke="#2b2b2b" stroke-width="1.2"/>
<text x="470.3" y="185.1" font-size="6.6" stroke="#231f20" stroke-width="0.03" textLength="20.6" lengthAdjust="spacingAndGlyphs">0.005</text>
<line x1="465" y1="207.3" x2="468" y2="207.3" stroke="#2b2b2b" stroke-width="1.2"/>
<text x="470.3" y="209.7" font-size="6.6" stroke="#231f20" stroke-width="0.03" textLength="20.6" lengthAdjust="spacingAndGlyphs">0.000</text>
<text x="0" y="0" font-size="9" stroke="#231f20" stroke-width="0.22" text-anchor="middle" transform="translate(227 169.3) rotate(-90) scale(0.7092 1)">Cell+Spike+ particles/mL</text>
<text x="0" y="0" font-size="9" stroke="#231f20" stroke-width="0.2" text-anchor="middle" transform="translate(506.3 171.5) rotate(90) scale(0.6696 1)">SARS-CoV-2 RNA</text>
<text x="0" y="0" font-size="9" stroke="#231f20" stroke-width="0.22" text-anchor="middle" transform="translate(496 170.5) rotate(90) scale(0.7547 1)">2 ^ (delta(ct))</text>
<text x="264.4" y="217.8" font-size="6.7" stroke="#231f20" stroke-width="0.03" text-anchor="middle">1</text>
<text x="274.73" y="217.8" font-size="6.7" stroke="#231f20" stroke-width="0.03" text-anchor="middle">2</text>
<text x="285.06" y="217.8" font-size="6.7" stroke="#231f20" stroke-width="0.03" text-anchor="middle">3</text>
<text x="295.39" y="217.8" font-size="6.7" stroke="#231f20" stroke-width="0.03" text-anchor="middle">4</text>
<text x="305.72" y="217.8" font-size="6.7" stroke="#231f20" stroke-width="0.03" text-anchor="middle">5</text>
<text x="316.05" y="217.8" font-size="6.7" stroke="#231f20" stroke-width="0.03" text-anchor="middle">6</text>
<text x="326.38" y="217.8" font-size="6.7" stroke="#231f20" stroke-width="0.03" text-anchor="middle">7</text>
<text x="336.71" y="217.8" font-size="6.7" stroke="#231f20" stroke-width="0.03" text-anchor="middle">8</text>
<text x="347.04" y="217.8" font-size="6.7" stroke="#231f20" stroke-width="0.03" text-anchor="middle">9</text>
<text x="357.37" y="217.8" font-size="6.7" stroke="#231f20" stroke-width="0.03" text-anchor="middle">10</text>
<text x="367.7" y="217.8" font-size="6.7" stroke="#231f20" stroke-width="0.03" text-anchor="middle">11</text>
<text x="378.03" y="217.8" font-size="6.7" stroke="#231f20" stroke-width="0.03" text-anchor="middle">12</text>
<text x="388.36" y="217.8" font-size="6.7" stroke="#231f20" stroke-width="0.03" text-anchor="middle">13</text>
<text x="398.69" y="217.8" font-size="6.7" stroke="#231f20" stroke-width="0.03" text-anchor="middle">14</text>
<text x="409.02" y="217.8" font-size="6.7" stroke="#231f20" stroke-width="0.03" text-anchor="middle">15</text>
<text x="419.35" y="217.8" font-size="6.7" stroke="#231f20" stroke-width="0.03" text-anchor="middle">16</text>
<text x="429.68" y="217.8" font-size="6.7" stroke="#231f20" stroke-width="0.03" text-anchor="middle">17</text>
<text x="440.01" y="217.8" font-size="6.7" stroke="#231f20" stroke-width="0.03" text-anchor="middle">18</text>
<text x="450.34" y="217.8" font-size="6.7" stroke="#231f20" stroke-width="0.03" text-anchor="middle">19</text>
<text x="460.67" y="217.8" font-size="6.7" stroke="#231f20" stroke-width="0.03" text-anchor="middle">20</text>
<rect x="332" y="143.9" width="6" height="5.8" fill="#1a5089"/>
<text x="341.2" y="148.6" font-size="6.4" stroke="#231f20" stroke-width="0.05" textLength="58" lengthAdjust="spacingAndGlyphs">Cell+Spike+ particles</text>
<rect x="332" y="157.3" width="6" height="5.8" fill="#c8102e"/>
<text x="341.2" y="162" font-size="6.4" stroke="#231f20" stroke-width="0.05" textLength="89.2" lengthAdjust="spacingAndGlyphs">SARS-CoV-2 RNA (2^(delta(ct)))</text>
<rect x="271.63" y="207" width="2.5" height="0.7" fill="#1a5089"/>
<rect x="281.96" y="192.6" width="2.5" height="15.1" fill="#1a5089"/>
<line x1="283.21" y1="190.3" x2="283.21" y2="192.6" stroke="#3a3a3a" stroke-width="0.8"/>
<line x1="282.01" y1="190.3" x2="284.41" y2="190.3" stroke="#3a3a3a" stroke-width="0.8"/>
<rect x="285.76" y="179.5" width="2.6" height="28.2" fill="#c8102e"/>
<rect x="292.29" y="155" width="2.5" height="52.7" fill="#1a5089"/>
<line x1="293.54" y1="146.4" x2="293.54" y2="155" stroke="#3a3a3a" stroke-width="0.8"/>
<line x1="292.34" y1="146.4" x2="294.74" y2="146.4" stroke="#3a3a3a" stroke-width="0.8"/>
<rect x="296.09" y="150.1" width="2.6" height="57.6" fill="#c8102e"/>
<rect x="302.62" y="190.7" width="2.5" height="17" fill="#1a5089"/>
<line x1="303.87" y1="188" x2="303.87" y2="190.7" stroke="#3a3a3a" stroke-width="0.8"/>
<line x1="302.67" y1="188" x2="305.07" y2="188" stroke="#3a3a3a" stroke-width="0.8"/>
<rect x="306.42" y="171.6" width="2.6" height="36.1" fill="#c8102e"/>
<rect x="312.95" y="201.2" width="2.5" height="6.5" fill="#1a5089"/>
<line x1="314.2" y1="199.1" x2="314.2" y2="201.2" stroke="#3a3a3a" stroke-width="0.8"/>
<line x1="313" y1="199.1" x2="315.4" y2="199.1" stroke="#3a3a3a" stroke-width="0.8"/>
<rect x="316.75" y="198.5" width="2.6" height="9.2" fill="#c8102e"/>
<rect x="323.28" y="202.8" width="2.5" height="4.9" fill="#1a5089"/>
<line x1="324.53" y1="201.4" x2="324.53" y2="202.8" stroke="#3a3a3a" stroke-width="0.8"/>
<line x1="323.33" y1="201.4" x2="325.73" y2="201.4" stroke="#3a3a3a" stroke-width="0.8"/>
<rect x="327.08" y="203.4" width="2.6" height="4.3" fill="#c8102e"/>
<rect x="333.61" y="202.1" width="2.5" height="5.6" fill="#1a5089"/>
<line x1="334.86" y1="201.2" x2="334.86" y2="202.1" stroke="#3a3a3a" stroke-width="0.8"/>
<line x1="333.66" y1="201.2" x2="336.06" y2="201.2" stroke="#3a3a3a" stroke-width="0.8"/>
<rect x="337.41" y="204.5" width="2.6" height="3.2" fill="#c8102e"/>
<rect x="343.94" y="201.8" width="2.5" height="5.9" fill="#1a5089"/>
<line x1="345.19" y1="200.9" x2="345.19" y2="201.8" stroke="#3a3a3a" stroke-width="0.8"/>
<line x1="343.99" y1="200.9" x2="346.39" y2="200.9" stroke="#3a3a3a" stroke-width="0.8"/>
<rect x="347.74" y="204.1" width="2.6" height="3.6" fill="#c8102e"/>
<rect x="354.27" y="201.8" width="2.5" height="5.9" fill="#1a5089"/>
<line x1="355.52" y1="198.9" x2="355.52" y2="201.8" stroke="#3a3a3a" stroke-width="0.8"/>
<line x1="354.32" y1="198.9" x2="356.72" y2="198.9" stroke="#3a3a3a" stroke-width="0.8"/>
<rect x="358.07" y="203.6" width="2.6" height="4.1" fill="#c8102e"/>
<rect x="364.6" y="203.2" width="2.5" height="4.5" fill="#1a5089"/>
<line x1="365.85" y1="202.2" x2="365.85" y2="203.2" stroke="#3a3a3a" stroke-width="0.8"/>
<line x1="364.65" y1="202.2" x2="367.05" y2="202.2" stroke="#3a3a3a" stroke-width="0.8"/>
<rect x="368.4" y="204.9" width="2.6" height="2.8" fill="#c8102e"/>
<rect x="374.93" y="204.8" width="2.5" height="2.9" fill="#1a5089"/>
<rect x="378.73" y="206.3" width="2.6" height="1.4" fill="#c8102e"/>
<rect x="385.26" y="205.6" width="2.5" height="2.1" fill="#1a5089"/>
<rect x="389.06" y="207" width="2.6" height="0.7" fill="#c8102e"/>
<rect x="395.59" y="206.2" width="2.5" height="1.5" fill="#1a5089"/>
<rect x="399.39" y="206.8" width="2.6" height="0.9" fill="#c8102e"/>
<rect x="405.92" y="206.4" width="2.5" height="1.3" fill="#1a5089"/>
<rect x="416.25" y="206.5" width="2.5" height="1.2" fill="#1a5089"/>
<rect x="426.58" y="206.5" width="2.5" height="1.2" fill="#1a5089"/>
<rect x="436.91" y="206.5" width="2.5" height="1.2" fill="#1a5089"/>
<rect x="447.24" y="206.6" width="2.5" height="1.1" fill="#1a5089"/>
<rect x="457.57" y="206.6" width="2.5" height="1.1" fill="#1a5089"/>
<rect x="260.7" y="232.4" width="1.5" height="77.4" fill="#fff"/>
<line x1="260.1" y1="232.4" x2="260.1" y2="310.3" stroke="#2b2b2b" stroke-width="1.4"/>
<line x1="465.3" y1="236.4" x2="465.3" y2="310.3" stroke="#2b2b2b" stroke-width="1.4"/>
<line x1="257.1" y1="309.8" x2="465.3" y2="309.8" stroke="#2b2b2b" stroke-width="1.3"/>
<line x1="264.4" y1="309.8" x2="264.4" y2="312.8" stroke="#2b2b2b" stroke-width="1"/>
<line x1="274.75" y1="309.8" x2="274.75" y2="312.8" stroke="#2b2b2b" stroke-width="1"/>
<line x1="285.1" y1="309.8" x2="285.1" y2="312.8" stroke="#2b2b2b" stroke-width="1"/>
<line x1="295.45" y1="309.8" x2="295.45" y2="312.8" stroke="#2b2b2b" stroke-width="1"/>
<line x1="305.8" y1="309.8" x2="305.8" y2="312.8" stroke="#2b2b2b" stroke-width="1"/>
<line x1="316.15" y1="309.8" x2="316.15" y2="312.8" stroke="#2b2b2b" stroke-width="1"/>
<line x1="326.5" y1="309.8" x2="326.5" y2="312.8" stroke="#2b2b2b" stroke-width="1"/>
<line x1="336.85" y1="309.8" x2="336.85" y2="312.8" stroke="#2b2b2b" stroke-width="1"/>
<line x1="347.2" y1="309.8" x2="347.2" y2="312.8" stroke="#2b2b2b" stroke-width="1"/>
<line x1="357.55" y1="309.8" x2="357.55" y2="312.8" stroke="#2b2b2b" stroke-width="1"/>
<line x1="367.9" y1="309.8" x2="367.9" y2="312.8" stroke="#2b2b2b" stroke-width="1"/>
<line x1="378.25" y1="309.8" x2="378.25" y2="312.8" stroke="#2b2b2b" stroke-width="1"/>
<line x1="388.6" y1="309.8" x2="388.6" y2="312.8" stroke="#2b2b2b" stroke-width="1"/>
<line x1="398.95" y1="309.8" x2="398.95" y2="312.8" stroke="#2b2b2b" stroke-width="1"/>
<line x1="409.3" y1="309.8" x2="409.3" y2="312.8" stroke="#2b2b2b" stroke-width="1"/>
<line x1="419.65" y1="309.8" x2="419.65" y2="312.8" stroke="#2b2b2b" stroke-width="1"/>
<line x1="430" y1="309.8" x2="430" y2="312.8" stroke="#2b2b2b" stroke-width="1"/>
<line x1="440.35" y1="309.8" x2="440.35" y2="312.8" stroke="#2b2b2b" stroke-width="1"/>
<line x1="450.7" y1="309.8" x2="450.7" y2="312.8" stroke="#2b2b2b" stroke-width="1"/>
<line x1="461.05" y1="309.8" x2="461.05" y2="312.8" stroke="#2b2b2b" stroke-width="1"/>
<line x1="257.1" y1="236" x2="260.1" y2="236" stroke="#2b2b2b" stroke-width="1.2"/>
<text x="253.3" y="238.4" font-size="6.8" stroke="#231f20" stroke-width="0.03" text-anchor="end">8</text>
<line x1="257.1" y1="254.6" x2="260.1" y2="254.6" stroke="#2b2b2b" stroke-width="1.2"/>
<text x="253.3" y="257" font-size="6.8" stroke="#231f20" stroke-width="0.03" text-anchor="end">6</text>
<line x1="257.1" y1="273.2" x2="260.1" y2="273.2" stroke="#2b2b2b" stroke-width="1.2"/>
<text x="253.3" y="275.6" font-size="6.8" stroke="#231f20" stroke-width="0.03" text-anchor="end">4</text>
<line x1="257.1" y1="291.7" x2="260.1" y2="291.7" stroke="#2b2b2b" stroke-width="1.2"/>
<text x="253.3" y="294.1" font-size="6.8" stroke="#231f20" stroke-width="0.03" text-anchor="end">2</text>
<line x1="257.1" y1="309.8" x2="260.1" y2="309.8" stroke="#2b2b2b" stroke-width="1.2"/>
<text x="253.3" y="312.2" font-size="6.8" stroke="#231f20" stroke-width="0.03" text-anchor="end">0</text>
<line x1="465.3" y1="248.8" x2="468.3" y2="248.8" stroke="#2b2b2b" stroke-width="1.2"/>
<text x="471" y="251.2" font-size="6.8" stroke="#231f20" stroke-width="0.03">100</text>
<line x1="465.3" y1="261" x2="468.3" y2="261" stroke="#2b2b2b" stroke-width="1.2"/>
<text x="471" y="263.4" font-size="6.8" stroke="#231f20" stroke-width="0.03">80</text>
<line x1="465.3" y1="273.2" x2="468.3" y2="273.2" stroke="#2b2b2b" stroke-width="1.2"/>
<text x="471" y="275.6" font-size="6.8" stroke="#231f20" stroke-width="0.03">60</text>
<line x1="465.3" y1="285.4" x2="468.3" y2="285.4" stroke="#2b2b2b" stroke-width="1.2"/>
<text x="471" y="287.8" font-size="6.8" stroke="#231f20" stroke-width="0.03">40</text>
<line x1="465.3" y1="297.6" x2="468.3" y2="297.6" stroke="#2b2b2b" stroke-width="1.2"/>
<text x="471" y="300" font-size="6.8" stroke="#231f20" stroke-width="0.03">20</text>
<line x1="465.3" y1="309.8" x2="468.3" y2="309.8" stroke="#2b2b2b" stroke-width="1.2"/>
<text x="471" y="312.2" font-size="6.8" stroke="#231f20" stroke-width="0.03">0</text>
<text x="0" y="0" font-size="9" stroke="#231f20" stroke-width="0.22" text-anchor="middle" transform="translate(243 270.7) rotate(-90) scale(0.6647 1)">Specific TF activity, pM</text>
<text x="0" y="0" font-size="9" stroke="#231f20" stroke-width="0.22" text-anchor="middle" transform="translate(501.9 280.2) rotate(90) scale(0.7242 1)">Platelet activation:</text>
<text x="0" y="0" font-size="9" stroke="#231f20" stroke-width="0.22" text-anchor="middle" transform="translate(492.6 279.5) rotate(90) scale(0.7834 1)">αIIbβIII*+CD62p+ (%)</text>
<text x="264.4" y="320.9" font-size="6.7" stroke="#231f20" stroke-width="0.03" text-anchor="middle">1</text>
<text x="274.75" y="320.9" font-size="6.7" stroke="#231f20" stroke-width="0.03" text-anchor="middle">2</text>
<text x="285.1" y="320.9" font-size="6.7" stroke="#231f20" stroke-width="0.03" text-anchor="middle">3</text>
<text x="295.45" y="320.9" font-size="6.7" stroke="#231f20" stroke-width="0.03" text-anchor="middle">4</text>
<text x="305.8" y="320.9" font-size="6.7" stroke="#231f20" stroke-width="0.03" text-anchor="middle">5</text>
<text x="316.15" y="320.9" font-size="6.7" stroke="#231f20" stroke-width="0.03" text-anchor="middle">6</text>
<text x="326.5" y="320.9" font-size="6.7" stroke="#231f20" stroke-width="0.03" text-anchor="middle">7</text>
<text x="336.85" y="320.9" font-size="6.7" stroke="#231f20" stroke-width="0.03" text-anchor="middle">8</text>
<text x="347.2" y="320.9" font-size="6.7" stroke="#231f20" stroke-width="0.03" text-anchor="middle">9</text>
<text x="357.55" y="320.9" font-size="6.7" stroke="#231f20" stroke-width="0.03" text-anchor="middle">10</text>
<text x="367.9" y="320.9" font-size="6.7" stroke="#231f20" stroke-width="0.03" text-anchor="middle">11</text>
<text x="378.25" y="320.9" font-size="6.7" stroke="#231f20" stroke-width="0.03" text-anchor="middle">12</text>
<text x="388.6" y="320.9" font-size="6.7" stroke="#231f20" stroke-width="0.03" text-anchor="middle">13</text>
<text x="398.95" y="320.9" font-size="6.7" stroke="#231f20" stroke-width="0.03" text-anchor="middle">14</text>
<text x="409.3" y="320.9" font-size="6.7" stroke="#231f20" stroke-width="0.03" text-anchor="middle">15</text>
<text x="419.65" y="320.9" font-size="6.7" stroke="#231f20" stroke-width="0.03" text-anchor="middle">16</text>
<text x="430" y="320.9" font-size="6.7" stroke="#231f20" stroke-width="0.03" text-anchor="middle">17</text>
<text x="440.35" y="320.9" font-size="6.7" stroke="#231f20" stroke-width="0.03" text-anchor="middle">18</text>
<text x="450.7" y="320.9" font-size="6.7" stroke="#231f20" stroke-width="0.03" text-anchor="middle">19</text>
<text x="461.05" y="320.9" font-size="6.7" stroke="#231f20" stroke-width="0.03" text-anchor="middle">20</text>
<text x="371.2" y="332.9" font-size="9" stroke="#231f20" stroke-width="0.2" text-anchor="middle" textLength="22.6" lengthAdjust="spacingAndGlyphs">Fraction</text>
<text x="269.9" y="333" font-size="7.9" stroke="#231f20" stroke-width="0.12" text-anchor="middle" textLength="14.2" lengthAdjust="spacingAndGlyphs">Void</text>
<text x="269.7" y="342.5" font-size="8.1" stroke="#231f20" stroke-width="0.12" text-anchor="middle" textLength="22.8" lengthAdjust="spacingAndGlyphs">volume</text>
<rect x="330.9" y="244.9" width="6.1" height="6" fill="#86acd1"/>
<text x="340.4" y="250.2" font-size="6.4" stroke="#231f20" stroke-width="0.05" textLength="37.5" lengthAdjust="spacingAndGlyphs">TF-activity, pM</text>
<rect x="330.9" y="258.1" width="6.1" height="6.2" fill="#e07088"/>
<text x="340.4" y="263.2" font-size="6.2" stroke="#231f20" stroke-width="0.05" textLength="86.3" lengthAdjust="spacingAndGlyphs">Platelets: αIIbβIII*+CD62p+ (%)</text>
<text x="362.7" y="270.6" font-size="6.2" stroke="#231f20" stroke-width="0.05" textLength="40" lengthAdjust="spacingAndGlyphs">(wt mouse plts)</text>
<path d="M266.1 304 V233.6 H307.3 V251.5" fill="none" stroke="#333" stroke-width="0.9"/>
<path d="M266.1 241.4 H297.4 V244.5" fill="none" stroke="#333" stroke-width="0.9"/>
<path d="M266.1 249.4 H287.5 V252.4" fill="none" stroke="#333" stroke-width="0.9"/>
<text x="307.9" y="232.5" font-size="6" stroke="#231f20" stroke-width="0.05" text-anchor="middle" textLength="19.6" lengthAdjust="spacingAndGlyphs">0.0875</text>
<text x="281.85" y="248.1" font-size="6" stroke="#231f20" stroke-width="0.05" text-anchor="middle" textLength="19.6" lengthAdjust="spacingAndGlyphs">0.0697</text>
<circle cx="292.4" cy="237.2" r="0.9" fill="#222"/>
<circle cx="295.6" cy="237.2" r="0.9" fill="#222"/>
<circle cx="298.8" cy="237.2" r="0.9" fill="#222"/>
<circle cx="302.0" cy="237.2" r="0.9" fill="#222"/>
<rect x="282.1" y="293.8" width="2.6" height="16" fill="#86acd1"/>
<line x1="283.4" y1="285.3" x2="283.4" y2="303" stroke="#444" stroke-width="0.8"/>
<rect x="285.9" y="295" width="2.4" height="14.8" fill="#e07088"/>
<line x1="287.1" y1="273" x2="287.1" y2="309.8" stroke="#666" stroke-width="0.8"/>
<path d="M285.2 254.49 H289 L287.1 257.91 Z" fill="#c8102e"/>
<path d="M285.2 280.99 H289 L287.1 284.41 Z" fill="#c8102e"/>
<path d="M285.2 299.49 H289 L287.1 302.91 Z" fill="#c8102e"/>
<path d="M285.2 306.59 H289 L287.1 310.01 Z" fill="#c8102e"/>
<rect x="292.45" y="256.8" width="2.6" height="53" fill="#86acd1"/>
<line x1="293.75" y1="251" x2="293.75" y2="262" stroke="#444" stroke-width="0.8"/>
<rect x="296.25" y="279" width="2.4" height="30.8" fill="#e07088"/>
<line x1="297.45" y1="251.8" x2="297.45" y2="305" stroke="#555" stroke-width="0.8"/>
<path d="M295.55 250.69 H299.35 L297.45 254.11 Z" fill="#c8102e"/>
<path d="M295.55 256.59 H299.35 L297.45 260.01 Z" fill="#c8102e"/>
<path d="M295.55 261.49 H299.35 L297.45 264.91 Z" fill="#c8102e"/>
<path d="M295.55 278.29 H299.35 L297.45 281.71 Z" fill="#c8102e"/>
<path d="M295.55 303.29 H299.35 L297.45 306.71 Z" fill="#c8102e"/>
<path d="M295.55 307.29 H299.35 L297.45 310.71 Z" fill="#c8102e"/>
<rect x="302.8" y="289" width="2.6" height="20.8" fill="#86acd1"/>
<line x1="304.1" y1="285" x2="304.1" y2="293" stroke="#444" stroke-width="0.8"/>
<rect x="306.6" y="296" width="2.4" height="13.8" fill="#e07088"/>
<line x1="307.8" y1="275" x2="307.8" y2="309.8" stroke="#555" stroke-width="0.8"/>
<path d="M305.9 261.29 H309.7 L307.8 264.71 Z" fill="#c8102e"/>
<path d="M305.9 273.29 H309.7 L307.8 276.71 Z" fill="#c8102e"/>
<path d="M305.9 302.29 H309.7 L307.8 305.71 Z" fill="#c8102e"/>
<path d="M305.9 307.29 H309.7 L307.8 310.71 Z" fill="#c8102e"/>
<line x1="318.15" y1="298" x2="318.15" y2="309.8" stroke="#555" stroke-width="0.8"/>
<path d="M316.25 288.29 H320.05 L318.15 291.71 Z" fill="#c8102e"/>
<path d="M316.25 305.79 H320.05 L318.15 309.21 Z" fill="#c8102e"/>
<line x1="349.2" y1="305" x2="349.2" y2="309.8" stroke="#555" stroke-width="0.8"/>
<path d="M347.3 300.29 H351.1 L349.2 303.71 Z" fill="#c8102e"/>
<line x1="421.65" y1="301.6" x2="421.65" y2="309.8" stroke="#555" stroke-width="0.8"/>
<path d="M419.75 293.89 H423.55 L421.65 297.31 Z" fill="#c8102e"/>
<path d="M264.6 307.68 H268.2 L266.4 310.92 Z" fill="#c8102e"/>
<path d="M274.95 307.68 H278.55 L276.75 310.92 Z" fill="#c8102e"/>
<path d="M326.7 307.68 H330.3 L328.5 310.92 Z" fill="#c8102e"/>
<path d="M337.05 307.68 H340.65 L338.85 310.92 Z" fill="#c8102e"/>
<path d="M357.75 305.88 H361.35 L359.55 309.12 Z" fill="#c8102e"/>
<path d="M368.1 307.68 H371.7 L369.9 310.92 Z" fill="#c8102e"/>
<path d="M378.45 307.68 H382.05 L380.25 310.92 Z" fill="#c8102e"/>
<path d="M388.8 307.68 H392.4 L390.6 310.92 Z" fill="#c8102e"/>
<path d="M399.15 307.68 H402.75 L400.95 310.92 Z" fill="#c8102e"/>
<path d="M409.5 304.68 H413.1 L411.3 307.92 Z" fill="#c8102e"/>
<path d="M409.5 306.98 H413.1 L411.3 310.22 Z" fill="#c8102e"/>
<path d="M419.85 307.68 H423.45 L421.65 310.92 Z" fill="#c8102e"/>
<path d="M430.2 306.38 H433.8 L432 309.62 Z" fill="#c8102e"/>
<path d="M440.55 307.68 H444.15 L442.35 310.92 Z" fill="#c8102e"/>
<path d="M450.9 307.68 H454.5 L452.7 310.92 Z" fill="#c8102e"/>
<path d="M461.25 307.68 H464.85 L463.05 310.92 Z" fill="#c8102e"/>
<path d="M357.75 307.68 H361.35 L359.55 310.92 Z" fill="#c8102e"/>
</svg>
</body></html>
